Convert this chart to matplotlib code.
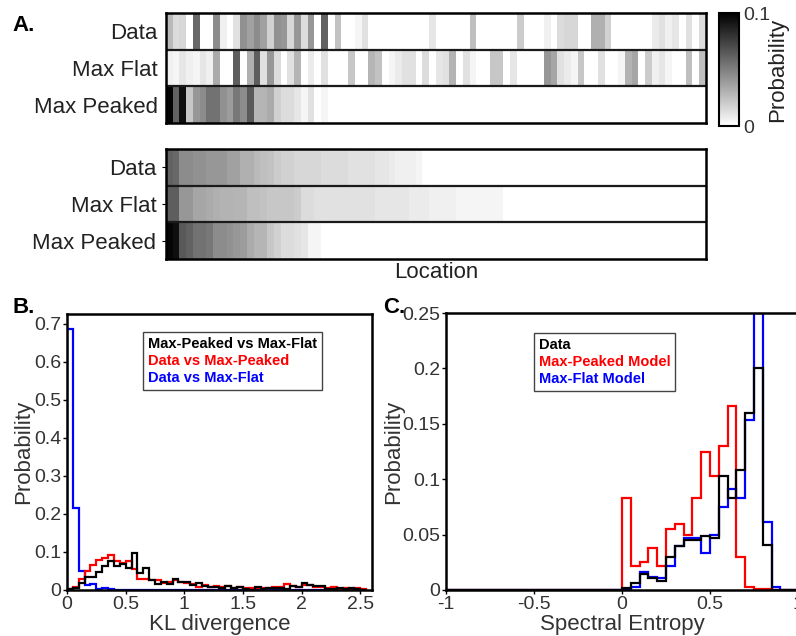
import numpy as np
import matplotlib
matplotlib.use("Agg")
import matplotlib.pyplot as plt
from matplotlib.lines import Line2D

plt.rcParams['font.family'] = ['Liberation Sans', 'DejaVu Sans']

# ---- panel A: probability per location (80 locations) ----
row_names = ["Data", "Max Flat", "Max Peaked"]

data_prob = [0.027, 0.014, 0.016, 0, 0.059, 0, 0, 0.045, 0.006, 0,
             0.012, 0.043, 0.037, 0.045, 0.037, 0.018, 0.043, 0.041, 0.016, 0.041,
             0.014, 0.041, 0, 0.061, 0, 0.024, 0, 0, 0.004, 0.012,
             0, 0, 0, 0, 0, 0, 0, 0, 0, 0.010,
             0, 0, 0, 0, 0, 0.025, 0, 0, 0, 0,
             0, 0, 0.020, 0, 0, 0, 0.006, 0, 0.014, 0.016,
             0.016, 0, 0, 0.031, 0.031, 0.018, 0, 0, 0, 0,
             0, 0, 0.008, 0.012, 0.006, 0.010, 0, 0.012, 0, 0.014]

flat_prob = [0.006, 0.004, 0.010, 0.006, 0.004, 0.010, 0.006, 0.033, 0, 0,
             0.063, 0, 0.031, 0.063, 0.012, 0.041, 0.014, 0, 0.012, 0.029,
             0, 0.008, 0, 0.012, 0, 0, 0, 0.022, 0, 0,
             0.029, 0.024, 0, 0.004, 0.008, 0.012, 0.012, 0, 0.014, 0,
             0.010, 0.012, 0.030, 0, 0.012, 0.004, 0, 0, 0.022, 0.022,
             0, 0.010, 0, 0, 0, 0, 0.041, 0.035, 0.012, 0.008,
             0.004, 0.022, 0, 0, 0.012, 0, 0, 0.004, 0.030, 0.035,
             0, 0.020, 0.006, 0.010, 0.004, 0, 0, 0.025, 0, 0.025]

peaked_prob = [0.098, 0.061, 0.094, 0.022, 0.041, 0.045, 0.055, 0.055, 0.043, 0.039,
               0.053, 0.045, 0.065, 0.029, 0.029, 0.033, 0.018, 0.014, 0.014, 0.010,
               0.004, 0.012, 0, 0.004] + [0] * 56

# ---- panel B: KL divergence histograms (bin width 0.05) ----
kl_edges = np.round(np.arange(52) * 0.05, 2)
kl_peak_flat = [0.003, 0.005, 0.018, 0.035, 0.035, 0.048, 0.062, 0.075, 0.062, 0.068,
                0.058, 0.098, 0.045, 0.058, 0.025, 0.015, 0.020, 0.015, 0.030, 0.022,
                0.022, 0.012, 0.018, 0.010, 0.008, 0.008, 0.005, 0.010, 0.005, 0.008,
                0.002, 0.001, 0.008, 0.003, 0.005, 0.005, 0.005, 0.002, 0.010, 0.008,
                0.018, 0.012, 0.010, 0.010, 0.003, 0.003, 0.005, 0.003, 0.006, 0.003, 0.001]
kl_data_peak = [0.003, 0.008, 0.030, 0.050, 0.065, 0.080, 0.085, 0.092, 0.075, 0.072,
                0.075, 0.055, 0.030, 0.030, 0.025, 0.025, 0.018, 0.022, 0.025, 0.020,
                0.018, 0.015, 0.008, 0.012, 0.008, 0.010, 0.008, 0.010, 0.005, 0.008,
                0.006, 0.005, 0.004, 0.006, 0.005, 0.008, 0.008, 0.015, 0.010, 0.008,
                0.012, 0.012, 0.008, 0.008, 0.005, 0.008, 0.003, 0.005, 0.003, 0.005, 0.002]
kl_data_flat = [0.685, 0.215, 0.050, 0.012, 0.015, 0.003, 0.006, 0.002, 0.001, 0.001,
                0.001, 0.001, 0.001, 0.001, 0.001, 0.001, 0.001, 0.001, 0.001, 0.001,
                0.001, 0.001, 0.001, 0.001, 0.001, 0.001, 0, 0, 0, 0,
                0, 0, 0, 0, 0, 0, 0, 0, 0, 0,
                0, 0, 0, 0, 0, 0, 0, 0, 0, 0, 0]

# ---- panel C: spectral entropy histograms (bin width 0.05, -1..1) ----
se_edges = np.round(np.arange(41) * 0.05 - 1, 2)
se_data = [0] * 20 + [0.002, 0.006, 0.014, 0.011, 0.008, 0.030, 0.040, 0.045, 0.045, 0.049,
                      0.047, 0.103, 0.083, 0.108, 0.160, 0.200, 0.041, 0, 0, 0]
se_peaked = [0] * 20 + [0.083, 0.022, 0.025, 0.038, 0.022, 0.055, 0.060, 0.050, 0.083, 0.125,
                        0.103, 0.130, 0.166, 0.030, 0.003, 0.001, 0.001, 0, 0, 0]
se_flat = [0] * 20 + [0, 0.003, 0.016, 0.012, 0.011, 0.022, 0.040, 0.047, 0.047, 0.033,
                      0.050, 0.075, 0.091, 0.083, 0.153, 0.250, 0.061, 0.003, 0, 0]

W, H = 796, 636
fig = plt.figure(figsize=(W / 100, H / 100), dpi=100)


def px_axes(x0, y0, x1, y1):
    return fig.add_axes([x0 / W, 1 - y1 / H, (x1 - x0) / W, (y1 - y0) / H])


txt_col = "#333333"
rows = np.array([data_prob, flat_prob, peaked_prob])
rows_sorted = -np.sort(-rows, axis=1)

ax_top = px_axes(166, 13, 706, 123)
ax_bot = px_axes(166, 149, 706, 259)
for ax, mat, tl in [(ax_top, rows, 0), (ax_bot, rows_sorted, 3)]:
    im = ax.imshow(mat, cmap="gray_r", vmin=0, vmax=0.1, aspect="auto",
                   interpolation="nearest")
    for yb in [0.5, 1.5]:
        ax.axhline(yb, color="#1a1a1a", lw=1.6)
    ax.set_xticks([])
    ax.set_yticks(range(3))
    ax.set_yticklabels(row_names, fontsize=16, color="#222222")
    ax.tick_params(axis="y", length=tl, pad=6 if tl == 0 else 4)
    for s in ax.spines.values():
        s.set_linewidth(1.8)
ax_bot.set_xlabel("Location", fontsize=16, color="#222222", labelpad=2)

cax = px_axes(719, 13, 739, 126)
cb = fig.colorbar(im, cax=cax, ticks=[0, 0.1])
cb.ax.set_yticklabels(["0", "0.1"], fontsize=14, color=txt_col)
cb.ax.tick_params(length=0, pad=3)
cb.outline.set_linewidth(1.5)
cb.set_label("Probability", fontsize=16, color="#222222", labelpad=-2)

# ---- panel B ----
axB = px_axes(67, 314, 372, 590)
axB.stairs(kl_data_flat, kl_edges, color="blue", lw=1.6)
axB.stairs(kl_data_peak, kl_edges, color="red", lw=1.6)
axB.stairs(kl_peak_flat, kl_edges, color="black", lw=1.6)
axB.set_xlim(0, 2.6)
axB.set_ylim(0, 0.725)
axB.set_xticks([0, 0.5, 1, 1.5, 2, 2.5])
axB.set_xticklabels(["0", "0.5", "1", "1.5", "2", "2.5"])
axB.set_yticks(np.arange(8) / 10)
axB.set_yticklabels(["0", "0.1", "0.2", "0.3", "0.4", "0.5", "0.6", "0.7"])
axB.set_xlabel("KL divergence", fontsize=16, color=txt_col, labelpad=1)
axB.set_ylabel("Probability", fontsize=16, color=txt_col, labelpad=0)
handlesB = [Line2D([], [], color=c) for c in ["black", "red", "blue"]]
legB = axB.legend(handlesB, ["Max-Peaked vs Max-Flat", "Data vs Max-Peaked", "Data vs Max-Flat"],
                  loc="upper left", bbox_to_anchor=(0.25, 0.935), borderaxespad=0,
                  handlelength=0, handletextpad=0, labelcolor=["black", "red", "blue"],
                  prop={"weight": "bold", "size": 10.5}, fancybox=False, edgecolor="#444444",
                  framealpha=1, labelspacing=0.2, borderpad=0.35)
legB.get_frame().set_linewidth(1.0)

# ---- panel C ----
axC = px_axes(446, 313, 798, 590)
axC.stairs(se_peaked, se_edges, color="red", lw=1.6)
axC.stairs(se_flat, se_edges, color="blue", lw=1.6)
axC.stairs(se_data, se_edges, color="black", lw=1.6)
axC.set_xlim(-1, 1)
axC.set_ylim(0, 0.25)
axC.set_xticks([-1, -0.5, 0, 0.5, 1])
axC.set_xticklabels(["-1", "-0.5", "0", "0.5", "1"])
axC.set_yticks([0, 0.05, 0.1, 0.15, 0.2, 0.25])
axC.set_yticklabels(["0", "0.05", "0.1", "0.15", "0.2", "0.25"])
axC.spines["right"].set_visible(False)
axC.set_xlabel("Spectral Entropy", fontsize=16, color=txt_col, labelpad=1)
axC.set_ylabel("Probability", fontsize=16, color=txt_col, labelpad=-1)
handlesC = [Line2D([], [], color=c) for c in ["black", "red", "blue"]]
legC = axC.legend(handlesC, ["Data", "Max-Peaked Model", "Max-Flat Model"],
                  loc="upper left", bbox_to_anchor=(0.249, 0.928), borderaxespad=0,
                  handlelength=0, handletextpad=0, labelcolor=["black", "red", "blue"],
                  prop={"weight": "bold", "size": 10.5}, fancybox=False, edgecolor="#444444",
                  framealpha=1, labelspacing=0.2, borderpad=0.35)
legC.get_frame().set_linewidth(1.0)

for ax in (axB, axC):
    ax.tick_params(labelsize=14, labelcolor=txt_col, length=3, width=1, pad=1)
    for s in ax.spines.values():
        s.set_linewidth(1.8)

fig.text(12 / W, 1 - 31 / H, "A.", fontsize=16, weight="bold", va="baseline")
fig.text(12 / W, 1 - 313 / H, "B.", fontsize=16, weight="bold", va="baseline")
fig.text(383 / W, 1 - 313 / H, "C.", fontsize=16, weight="bold", va="baseline")

fig.savefig("out.png", dpi=100)
